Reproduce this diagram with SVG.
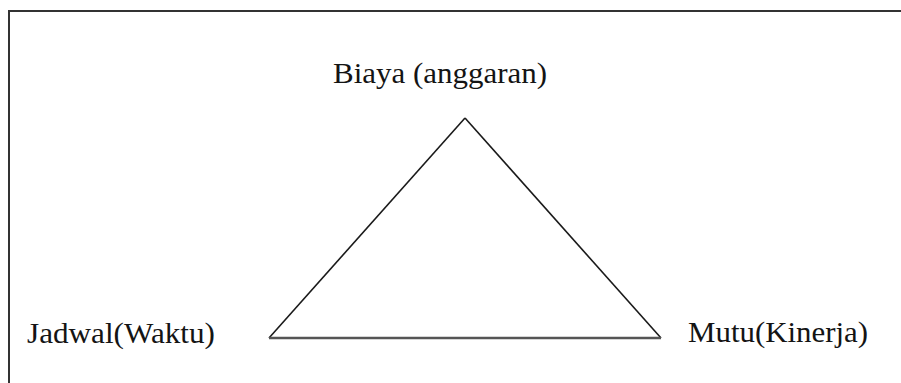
<svg xmlns="http://www.w3.org/2000/svg" width="901" height="383" viewBox="0 0 901 383">
<style>
.lbl{font-family:"Liberation Serif","Times New Roman",serif;font-size:30px;fill:#141414}
.frame{stroke:#333;stroke-width:2;fill:none}
.edge{stroke:#1a1a1a;stroke-width:1.6;fill:none}
</style>
<rect width="901" height="383" fill="#fff"/>
<g id="frame">
<path class="frame" d="M9,383 V11 H901"/>
</g>
<g id="connectors">
<line class="edge" x1="465" y1="118" x2="269" y2="338"/>
<line class="edge" x1="465" y1="118" x2="661" y2="338"/>
<line x1="269" y1="338" x2="661" y2="338" stroke="#555" stroke-width="2.4"/>
</g>
<g id="node-biaya"><text class="lbl" x="333" y="83" textLength="214" lengthAdjust="spacingAndGlyphs">Biaya (anggaran)</text></g>
<g id="node-jadwal"><text class="lbl" x="27" y="343" textLength="188" lengthAdjust="spacingAndGlyphs">Jadwal(Waktu)</text></g>
<g id="node-mutu"><text class="lbl" x="688" y="342" textLength="180" lengthAdjust="spacingAndGlyphs">Mutu(Kinerja)</text></g>
</svg>
